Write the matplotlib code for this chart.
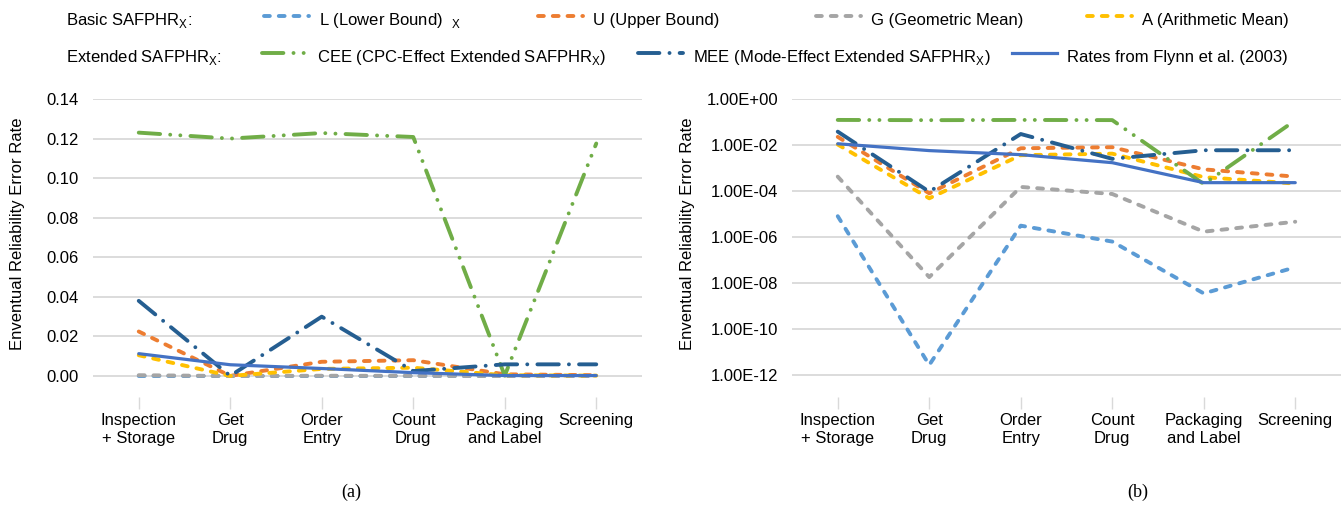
import numpy as np
import matplotlib
matplotlib.use('Agg')
from matplotlib import pyplot as plt
from matplotlib.lines import Line2D
from matplotlib.ticker import FixedLocator, FuncFormatter, NullLocator

plt.rcParams['font.family'] = ['Liberation Sans', 'DejaVu Sans']
plt.rcParams['font.size'] = 12

stages = ['Inspection\n+ Storage', 'Get\nDrug', 'Order\nEntry', 'Count\nDrug',
          'Packaging\nand Label', 'Screening']

# eventual reliability error rates per stage
L_low = [8e-6, 2.7e-12, 3.1e-6, 6.3e-7, 3.5e-9, 4.8e-8]
U_up = [0.0225, 7.9e-5, 0.0072, 0.0080, 8.7e-4, 4.2e-4]
G_geo = [4.2e-4, 1.8e-8, 1.5e-4, 7.4e-5, 1.7e-6, 4.6e-6]
A_ari = [0.0105, 4.8e-5, 0.0036, 0.0042, 4.0e-4, 2.1e-4]
CEE = [0.123, 0.120, 0.1228, 0.1208, 2.0e-4, 0.1175]
MEE = [0.038, 9.3e-5, 0.030, 0.0025, 0.0059, 0.0059]
flynn = [0.0113, 0.0057, 0.0038, 0.0017, 2.3e-4, 2.3e-4]

W, H = 1343, 507
sysdash = (0, (1.5, 2.3))
# data, colour, linestyle, linewidth, label
styles = [
    (L_low, '#5B9BD5', sysdash, 2.8, 'L (Lower Bound)  $_\\mathregular{X}$'),
    (U_up, '#ED7D31', sysdash, 2.8, 'U (Upper Bound)'),
    (G_geo, '#A5A5A5', sysdash, 2.8, 'G (Geometric Mean)'),
    (A_ari, '#FFC000', sysdash, 2.8, 'A (Arithmetic Mean)'),
    (CEE, '#70AD47', (0, (5.5, 2.6, 0.01, 2.6, 0.01, 2.6)), 2.8,
     'CEE (CPC-Effect Extended SAFPHR$_\\mathregular{X}$)'),
    (MEE, '#255E91', (0, (5.5, 2.6, 0.01, 2.6)), 2.8,
     'MEE (Mode-Effect Extended SAFPHR$_\\mathregular{X}$)'),
    (flynn, '#4472C4', '-', 2.3, 'Rates from Flynn et al. (2003)'),
]

fig = plt.figure(figsize=(W / 100, H / 100), dpi=100)
ax1 = fig.add_axes([93 / W, 1 - 397 / H, 549 / W, 298 / H])
ax2 = fig.add_axes([792 / W, 1 - 397 / H, 549 / W, 298 / H])

x = np.arange(len(stages))
for ax in (ax1, ax2):
    for vals, c, ls, w, lab in styles:
        ax.plot(x, vals, color=c, linestyle=ls, lw=w,
                dash_capstyle='round', solid_capstyle='round')
    ax.set_xlim(-0.5, 5.5)
    ax.set_xticks(x)
    ax.set_xticklabels(stages, linespacing=1.3)
    ax.tick_params(axis='x', length=8.4, width=1, color='#D9D9D9', pad=3)
    ax.tick_params(axis='y', length=0, pad=10)
    ax.grid(axis='y', color='#D9D9D9', lw=1.3)
    ax.set_axisbelow(True)
    for s in ax.spines.values():
        s.set_visible(False)
    ax.set_ylabel('Enventual Reliability Error Rate')

ax1.set_ylim(-0.0106, 0.14)
ax1.set_yticks(np.arange(0, 0.141, 0.02))
ax1.yaxis.set_major_formatter(FuncFormatter(lambda v, p: '%.2f' % v))
ax1.yaxis.set_label_coords(-0.124, 0.547)

ax2.set_yscale('log')
ax2.set_ylim(10 ** -12.96, 1)
ax2.yaxis.set_major_locator(FixedLocator(10.0 ** np.arange(0, -13, -2)))
ax2.yaxis.set_minor_locator(NullLocator())
ax2.yaxis.set_major_formatter(FuncFormatter(lambda v, p: '%.2E' % v))
ax2.yaxis.set_label_coords(-0.177, 0.547)


def entry(xp, yp, c, ls, w, lab):
    fig.add_artist(Line2D([xp / W, (xp + 45) / W], [1 - yp / H, 1 - yp / H],
                          color=c, linestyle=ls, lw=w, dash_capstyle='round',
                          transform=fig.transFigure))
    fig.text((xp + 55) / W, 1 - (yp + 9) / H, lab, va='baseline')


fig.text(66 / W, 1 - 25 / H, 'Basic SAFPHR$_\\mathregular{X}$:', va='baseline')
fig.text(66 / W, 1 - 62 / H, 'Extended SAFPHR$_\\mathregular{X}$:', va='baseline')
pos = [(264, 16), (538, 16), (816, 16), (1087, 16), (262, 53), (638, 53), (1012, 53)]
for (xp, yp), (vals, c, ls, w, lab) in zip(pos, styles):
    entry(xp, yp, c, ls, w, lab)

fig.text(351 / W, 1 - 492 / H, '(a)', ha='center', va='center',
         family='Liberation Serif', fontsize=13)
fig.text(1138 / W, 1 - 492 / H, '(b)', ha='center', va='center',
         family='Liberation Serif', fontsize=13)

fig.savefig('out.png', dpi=100)
